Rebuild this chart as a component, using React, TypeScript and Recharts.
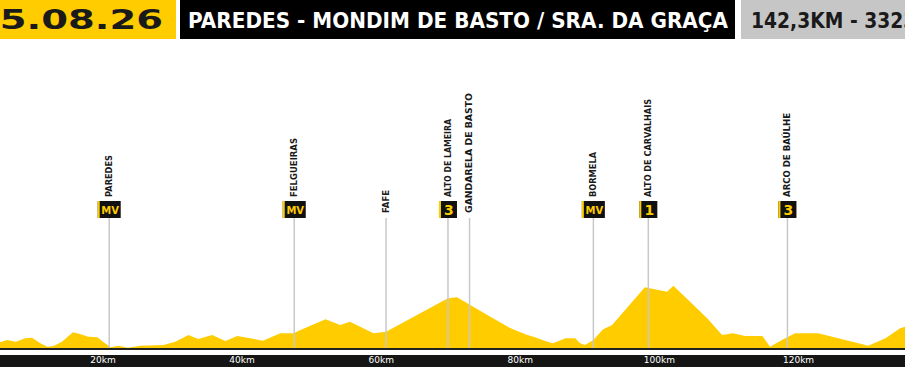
import { AreaChart, Area, XAxis, YAxis, ReferenceLine } from 'recharts';

// profile (km / metres)
const kms = [
  5.2, 6.2, 7.5, 8.8, 9.8, 11.0, 12.0, 12.9, 14.1, 15.7, 16.7, 17.9, 19.2, 20.0, 21.1, 22.2, 23.6,
  25.4, 28.7, 30.4, 32.3, 33.7, 35.7, 37.6, 39.3, 41.2, 43.0, 45.5, 47.4, 48.4, 52.0, 54.1, 55.5,
  58.9, 60.7, 69.6, 70.9, 72.8, 75.7, 78.6, 81.0, 81.9, 83.6, 84.7, 86.5, 87.9, 88.6, 89.3, 90.5,
  91.9, 93.2, 97.9, 101.1, 102.0, 105.9, 107.0, 109.0, 110.6, 112.3, 114.8, 115.9, 117.8, 119.5,
  122.8, 125.7, 128.6, 130.0, 132.5, 134.6, 135.3,
];
const elevations = [
  167, 190, 173, 207, 213, 157, 123, 130, 173, 267, 250, 223, 217, 173, 117, 133, 113,
  133, 140, 173, 240, 200, 240, 180, 230, 207, 183, 257, 257, 290, 397, 340, 373,
  257, 273, 607, 617, 540, 423, 307, 240, 223, 180, 157, 207, 207, 157, 140, 190,
  297, 340, 717, 673, 733, 473, 397, 240, 257, 230, 230, 123, 197, 257,
  257, 207, 157, 133, 207, 307, 323,
];

const axisTicks = [20, 40, 60, 80, 100, 120];

const markerNames = [
  'PAREDES', 'FELGUEIRAS', 'FAFE', 'ALTO DE LAMEIRA', 'GANDARELA DE BASTO',
  'BORMELA', 'ALTO DE CARVALHAIS', 'ARCO DE BAÚLHE',
];
const markerKms = [20.9, 47.5, 60.7, 69.6, 72.7, 90.5, 98.4, 118.4];
const markerBadges = ['MV', 'MV', '', '3', '', 'MV', '1', '3'];

const stageDate = '05.08.26';
const stageTitle = 'PAREDES - MONDIM DE BASTO / SRA. DA GRAÇA';
const stageInfo = '142,3KM - 3323M';

const YELLOW = '#FFCC00';
const FONT = '"DejaVu Sans", sans-serif';

// rendered label lengths so the rotated names match
const labelLen: Record<string, number> = {
  'PAREDES': 42,
  'FELGUEIRAS': 59,
  'FAFE': 23,
  'ALTO DE LAMEIRA': 78,
  'GANDARELA DE BASTO': 120,
  'BORMELA': 45,
  'ALTO DE CARVALHAIS': 98,
  'ARCO DE BAÚLHE': 84,
};

const profile = kms.map((km, i) => ({ km, ele: elevations[i] }));

function MarkerLabel({ viewBox, name, badge }: any) {
  if (!viewBox) return null;
  const x = viewBox.x;
  const top = viewBox.y;
  const hasBadge = badge !== '';
  const w = badge === 'MV' ? 23 : 18;
  const textBottom = hasBadge ? top - 21 : top - 5;
  return (
    <g>
      {hasBadge && (
        <g>
          <rect x={x - w / 2} y={top - 17} width={w} height={17} fill="#111" />
          <rect x={x - w / 2} y={top - 17} width={2} height={17} fill={YELLOW} />
          <text
            x={x + 1}
            y={badge === 'MV' ? top - 4.5 : top - 3}
            textAnchor="middle"
            fill={YELLOW}
            fontSize={badge === 'MV' ? 10 : 14}
            fontWeight={900}
            fontFamily={FONT}
          >
            {badge}
          </text>
        </g>
      )}
      <text
        transform={`translate(${x + 2.9},${textBottom}) rotate(-90)`}
        fontSize={8}
        fontWeight={700}
        fill="#1a1a1a"
        fontFamily={FONT}
        textLength={labelLen[name]}
        lengthAdjust="spacingAndGlyphs"
      >
        {name}
      </text>
    </g>
  );
}

function Header() {
  return (
    <svg width={905} height={40} style={{ position: 'absolute', left: 0, top: 0 }}>
      <rect x={-20} y={0} width={196} height={39} fill={YELLOW} />
      <text
        x={163}
        y={29.3}
        textAnchor="end"
        fontSize={27}
        fontWeight={700}
        fill="#1a1a1a"
        fontFamily={FONT}
        textLength={190}
        lengthAdjust="spacingAndGlyphs"
      >
        {stageDate}
      </text>
      <rect x={180} y={0} width={555} height={39} fill="#000" />
      <text
        x={188}
        y={28.3}
        fontSize={21}
        fontWeight={700}
        fill="#fff"
        fontFamily={FONT}
        textLength={540}
        lengthAdjust="spacingAndGlyphs"
      >
        {stageTitle}
      </text>
      <rect x={741} y={0} width={200} height={39} fill="#c6c6c6" />
      <text
        x={751}
        y={28.3}
        fontSize={21}
        fontWeight={700}
        fill="#1a1a1a"
        fontFamily={FONT}
        textLength={184}
        lengthAdjust="spacingAndGlyphs"
      >
        {stageInfo}
      </text>
    </svg>
  );
}

export default function App() {
  return (
    <div
      style={{
        position: 'fixed',
        left: 0,
        top: 0,
        width: 905,
        height: 367,
        overflow: 'hidden',
        background: '#fff',
        fontFamily: FONT,
      }}
    >
      <Header />
      <div style={{ position: 'absolute', left: 0, top: 355, width: 905, height: 12, background: '#151515' }} />
      <div style={{ position: 'absolute', left: 0, top: 0 }}>
        <AreaChart width={905} height={367} data={profile} margin={{ top: 218, right: 0, left: 0, bottom: 0 }}>
          <XAxis
            dataKey="km"
            type="number"
            domain={[5.2, 135.3]}
            allowDataOverflow
            ticks={axisTicks}
            tickFormatter={(v: number) => `${v}km`}
            height={18}
            tickLine={false}
            tickSize={6}
            tickMargin={2}
            axisLine={{ stroke: '#222', strokeWidth: 2 }}
            tick={{ fill: '#fff', fontSize: 9, fontFamily: FONT }}
            interval={0}
          />
          <YAxis hide domain={[100, 1410]} allowDataOverflow />
          <Area
            type="linear"
            dataKey="ele"
            stroke="none"
            fill={YELLOW}
            fillOpacity={1}
            isAnimationActive={false}
            dot={false}
            activeDot={false}
          />
          {markerKms.map((km, i) => (
            <ReferenceLine
              key={markerNames[i]}
              x={km}
              stroke="#c8c8c8"
              strokeWidth={1.5}
              label={(p: any) => <MarkerLabel {...p} name={markerNames[i]} badge={markerBadges[i]} />}
            />
          ))}
        </AreaChart>
      </div>
    </div>
  );
}
